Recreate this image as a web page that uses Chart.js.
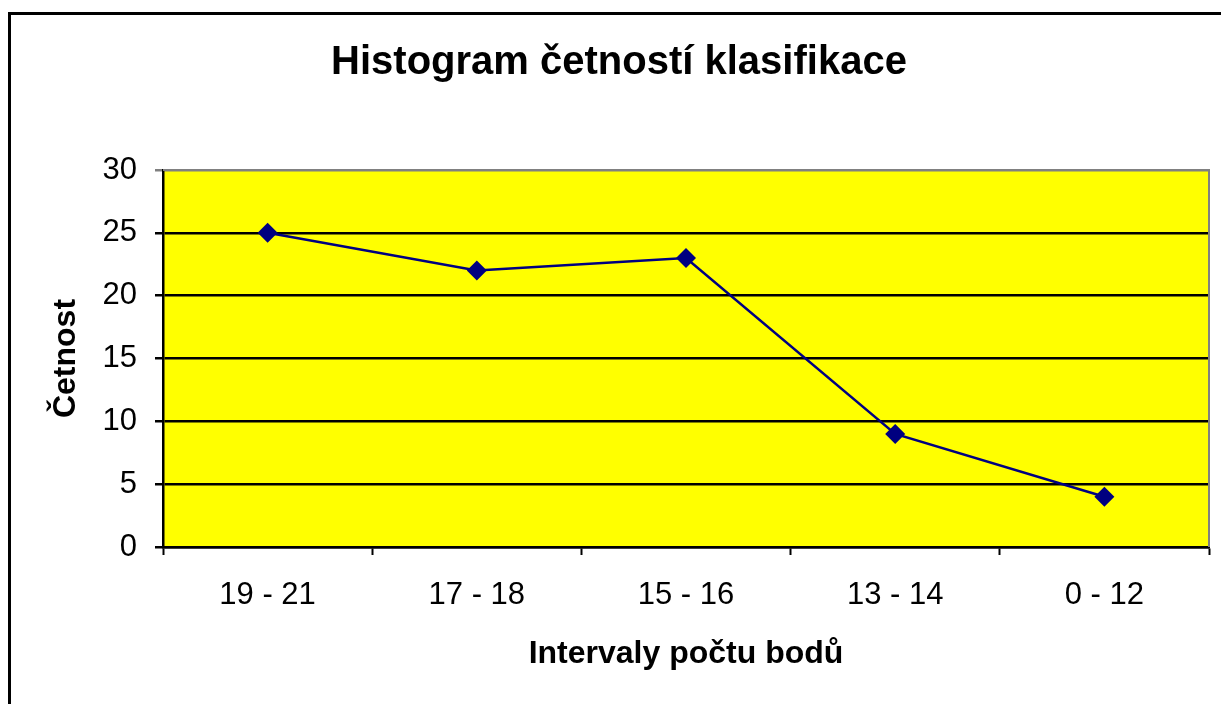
<!DOCTYPE html>
<html>
<head>
<meta charset="utf-8">
<script src="https://cdn.jsdelivr.net/npm/chart.js@4.4.1/dist/chart.umd.min.js"></script>
<style>
  html, body { margin: 0; padding: 0; background: #fff; overflow: hidden; }
  #wrap { position: relative; width: 1221px; height: 704px; }
  #frame { position: absolute; left: 8px; top: 12px; width: 1300px; height: 800px; border: 3px solid #000; box-sizing: border-box; }
  #hist-chart { position: absolute; left: 0; top: 0; }
</style>
</head>
<body>
<div id="wrap">
  <div id="frame"></div>
  <canvas id="hist-chart" width="1221" height="704"></canvas>
</div>
<script>
  // data
  const categories = ["19 - 21", "17 - 18", "15 - 16", "13 - 14", "0 - 12"];
  const counts = [25, 22, 23, 9, 4];
  const yTicks = [0, 5, 10, 15, 20, 25, 30];

  const font = "'Liberation Sans', Arial, sans-serif";

  const plotFrame = {
    id: 'plotFrame',
    beforeDraw: function (chart) {
      const a = chart.chartArea;
      const ctx = chart.ctx;
      ctx.save();
      ctx.fillStyle = '#FFFF00';
      ctx.fillRect(a.left, a.top, a.right - a.left, a.bottom - a.top);
      ctx.restore();
    },
    beforeDatasetsDraw: function (chart) {
      const a = chart.chartArea;
      const ctx = chart.ctx;
      ctx.save();
      ctx.strokeStyle = '#808080';
      ctx.lineWidth = 2;
      ctx.beginPath();
      ctx.moveTo(a.left, a.top);
      ctx.lineTo(a.right, a.top);
      ctx.lineTo(a.right, a.bottom);
      ctx.stroke();
      ctx.restore();
    }
  };

  const ctx = document.getElementById('hist-chart');
  new Chart(ctx, {
    type: 'line',
    data: {
      labels: categories,
      datasets: [{
        label: 'Četnost',
        data: counts,
        borderColor: '#000080',
        backgroundColor: '#000080',
        borderWidth: 2.5,
        fill: false,
        tension: 0,
        pointStyle: 'rectRot',
        pointRadius: 10,
        pointHoverRadius: 10,
        pointBorderWidth: 0
      }]
    },
    options: {
      responsive: false,
      animation: false,
      layout: {
        padding: { left: 29, right: 12, top: 0, bottom: 0 }
      },
      scales: {
        x: {
          offset: true,
          border: { display: true, color: '#000', width: 2.5 },
          grid: {
            display: true,
            offset: true,
            drawOnChartArea: false,
            drawTicks: true,
            tickLength: 8,
            tickWidth: 2,
            color: '#000'
          },
          ticks: {
            color: '#000',
            padding: 22,
            font: { family: font, size: 31 }
          },
          title: {
            display: true,
            text: 'Intervaly počtu bodů',
            color: '#000',
            font: { family: font, size: 32, weight: 'bold' },
            padding: { top: 0, bottom: 31 }
          },
          afterFit: function (scale) { scale.height = 157; }
        },
        y: {
          min: 0,
          max: 30,
          border: { display: true, color: '#000', width: 2.5 },
          grid: {
            display: true,
            drawTicks: true,
            tickLength: 8,
            lineWidth: 2.5,
            color: function (c) { return c.tick && c.tick.value === 30 ? '#808080' : '#000'; }
          },
          afterBuildTicks: function (scale) {
            scale.ticks = yTicks.map(function (v) { return { value: v }; });
          },
          ticks: {
            color: '#000',
            padding: 18,
            font: { family: font, size: 31 }
          },
          title: {
            display: true,
            text: 'Četnost',
            color: '#000',
            font: { family: font, size: 32, weight: 'bold' },
            padding: { top: 18, bottom: 0 }
          },
          afterFit: function (scale) { scale.width = 134; }
        }
      },
      plugins: {
        legend: { display: false },
        tooltip: { enabled: false },
        title: {
          display: true,
          text: 'Histogram četností klasifikace',
          color: '#000',
          font: { family: font, size: 40, weight: 'bold' },
          padding: { top: 39, bottom: 83 }
        }
      }
    },
    plugins: [plotFrame]
  });
</script>
</body>
</html>
